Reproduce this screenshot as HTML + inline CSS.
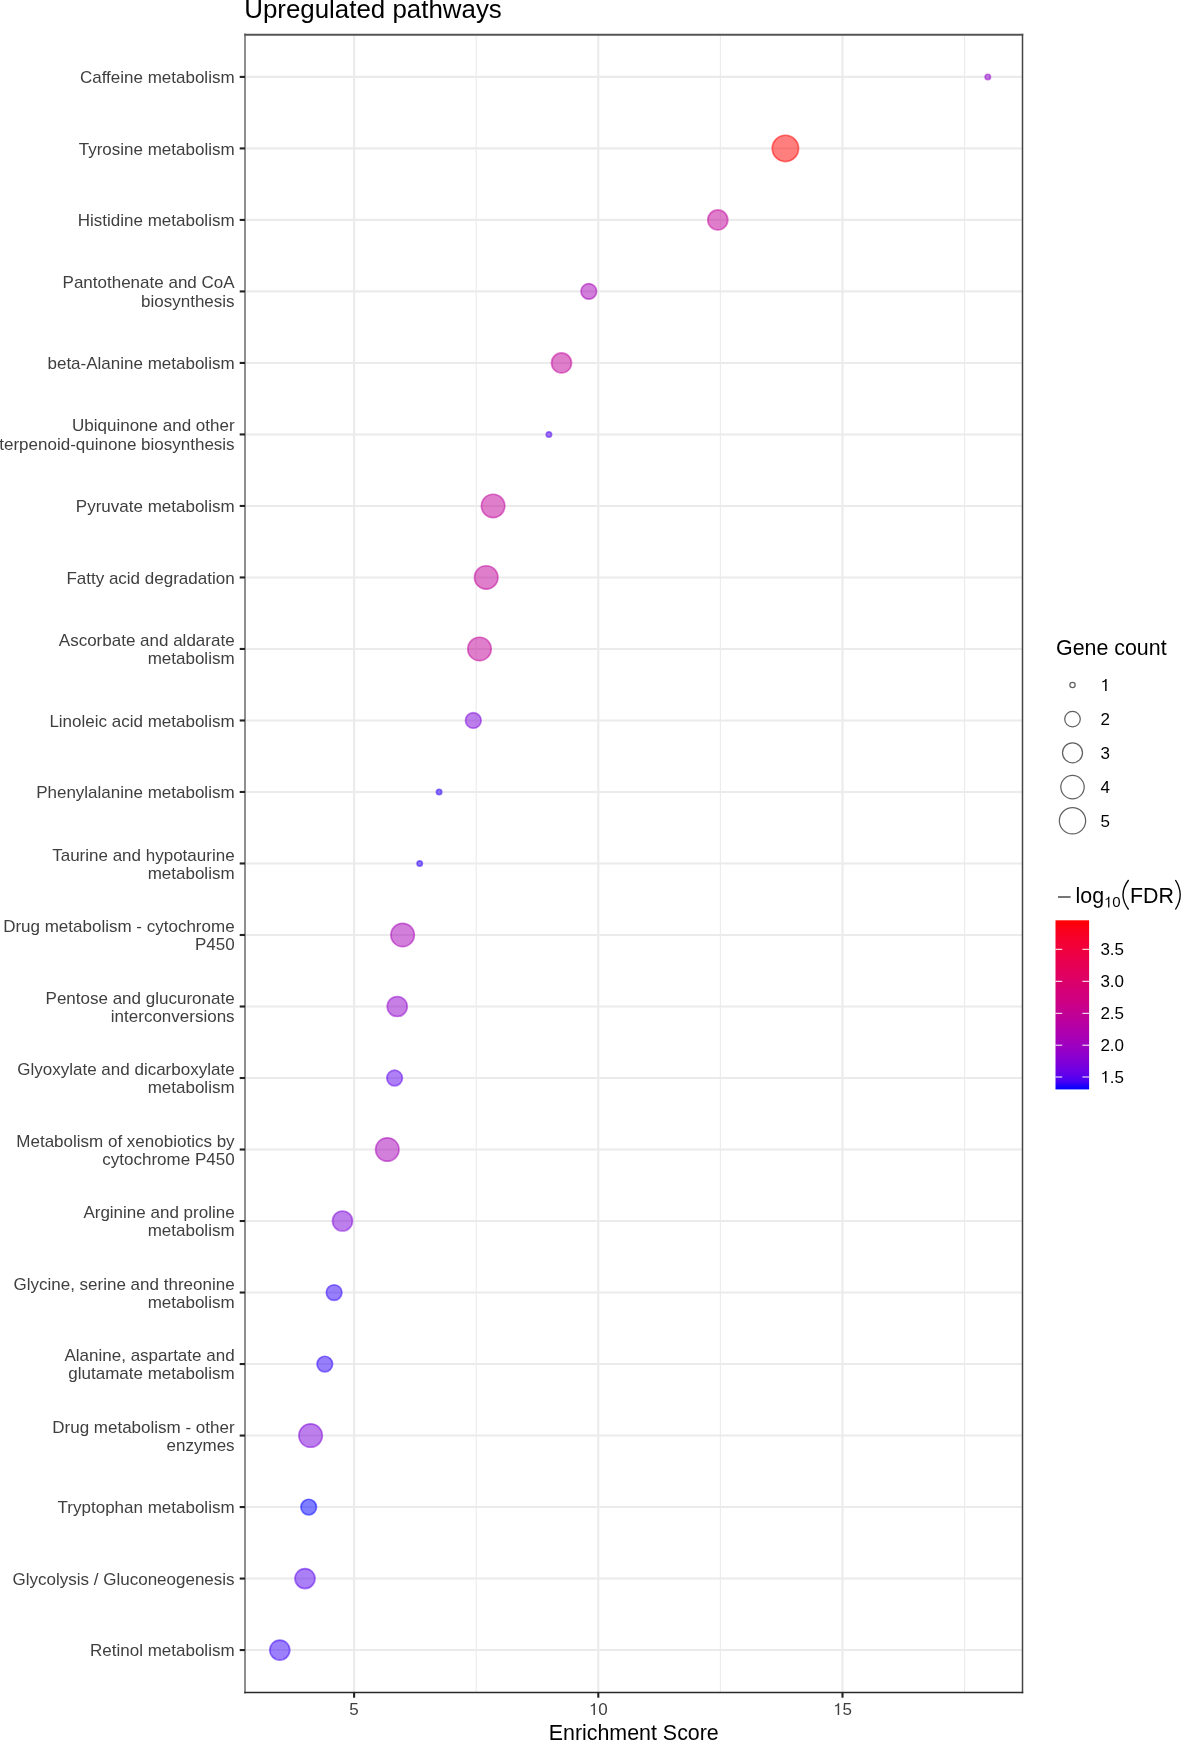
<!DOCTYPE html><html><head><meta charset="utf-8"><style>html,body{margin:0;padding:0;background:#fff;width:1181px;height:1741px;overflow:hidden}svg{display:block;will-change:transform}text{font-family:"Liberation Sans", sans-serif}</style></head><body>
<svg width="1181" height="1741" viewBox="0 0 1181 1741">
<rect x="0" y="0" width="1181" height="1741" fill="#FFFFFF"/>
<line x1="476.20" y1="34.5" x2="476.20" y2="1692.4" stroke="#EBEBEB" stroke-width="1.1"/>
<line x1="720.40" y1="34.5" x2="720.40" y2="1692.4" stroke="#EBEBEB" stroke-width="1.1"/>
<line x1="964.60" y1="34.5" x2="964.60" y2="1692.4" stroke="#EBEBEB" stroke-width="1.1"/>
<line x1="245.0" y1="76.90" x2="1022.5" y2="76.90" stroke="#EBEBEB" stroke-width="2.1"/>
<line x1="245.0" y1="148.41" x2="1022.5" y2="148.41" stroke="#EBEBEB" stroke-width="2.1"/>
<line x1="245.0" y1="219.92" x2="1022.5" y2="219.92" stroke="#EBEBEB" stroke-width="2.1"/>
<line x1="245.0" y1="291.42" x2="1022.5" y2="291.42" stroke="#EBEBEB" stroke-width="2.1"/>
<line x1="245.0" y1="362.93" x2="1022.5" y2="362.93" stroke="#EBEBEB" stroke-width="2.1"/>
<line x1="245.0" y1="434.44" x2="1022.5" y2="434.44" stroke="#EBEBEB" stroke-width="2.1"/>
<line x1="245.0" y1="505.95" x2="1022.5" y2="505.95" stroke="#EBEBEB" stroke-width="2.1"/>
<line x1="245.0" y1="577.45" x2="1022.5" y2="577.45" stroke="#EBEBEB" stroke-width="2.1"/>
<line x1="245.0" y1="648.96" x2="1022.5" y2="648.96" stroke="#EBEBEB" stroke-width="2.1"/>
<line x1="245.0" y1="720.47" x2="1022.5" y2="720.47" stroke="#EBEBEB" stroke-width="2.1"/>
<line x1="245.0" y1="791.98" x2="1022.5" y2="791.98" stroke="#EBEBEB" stroke-width="2.1"/>
<line x1="245.0" y1="863.48" x2="1022.5" y2="863.48" stroke="#EBEBEB" stroke-width="2.1"/>
<line x1="245.0" y1="934.99" x2="1022.5" y2="934.99" stroke="#EBEBEB" stroke-width="2.1"/>
<line x1="245.0" y1="1006.50" x2="1022.5" y2="1006.50" stroke="#EBEBEB" stroke-width="2.1"/>
<line x1="245.0" y1="1078.01" x2="1022.5" y2="1078.01" stroke="#EBEBEB" stroke-width="2.1"/>
<line x1="245.0" y1="1149.52" x2="1022.5" y2="1149.52" stroke="#EBEBEB" stroke-width="2.1"/>
<line x1="245.0" y1="1221.02" x2="1022.5" y2="1221.02" stroke="#EBEBEB" stroke-width="2.1"/>
<line x1="245.0" y1="1292.53" x2="1022.5" y2="1292.53" stroke="#EBEBEB" stroke-width="2.1"/>
<line x1="245.0" y1="1364.04" x2="1022.5" y2="1364.04" stroke="#EBEBEB" stroke-width="2.1"/>
<line x1="245.0" y1="1435.55" x2="1022.5" y2="1435.55" stroke="#EBEBEB" stroke-width="2.1"/>
<line x1="245.0" y1="1507.05" x2="1022.5" y2="1507.05" stroke="#EBEBEB" stroke-width="2.1"/>
<line x1="245.0" y1="1578.56" x2="1022.5" y2="1578.56" stroke="#EBEBEB" stroke-width="2.1"/>
<line x1="245.0" y1="1650.07" x2="1022.5" y2="1650.07" stroke="#EBEBEB" stroke-width="2.1"/>
<line x1="354.10" y1="34.5" x2="354.10" y2="1692.4" stroke="#EBEBEB" stroke-width="2.1"/>
<line x1="598.30" y1="34.5" x2="598.30" y2="1692.4" stroke="#EBEBEB" stroke-width="2.1"/>
<line x1="842.50" y1="34.5" x2="842.50" y2="1692.4" stroke="#EBEBEB" stroke-width="2.1"/>
<circle cx="987.80" cy="76.90" r="2.65" fill="#9000CC" fill-opacity="0.5" stroke="#9000CC" stroke-opacity="0.5" stroke-width="1.7"/>
<circle cx="785.40" cy="148.41" r="13.15" fill="#FF0000" fill-opacity="0.5" stroke="#FF0000" stroke-opacity="0.5" stroke-width="1.7"/>
<circle cx="717.80" cy="219.92" r="10.00" fill="#BF0099" fill-opacity="0.5" stroke="#BF0099" stroke-opacity="0.5" stroke-width="1.7"/>
<circle cx="588.80" cy="291.42" r="7.80" fill="#A600B7" fill-opacity="0.5" stroke="#A600B7" stroke-opacity="0.5" stroke-width="1.7"/>
<circle cx="561.50" cy="362.93" r="10.00" fill="#BF0099" fill-opacity="0.5" stroke="#BF0099" stroke-opacity="0.5" stroke-width="1.7"/>
<circle cx="548.90" cy="434.44" r="2.65" fill="#5200F0" fill-opacity="0.5" stroke="#5200F0" stroke-opacity="0.5" stroke-width="1.7"/>
<circle cx="493.10" cy="505.95" r="11.70" fill="#BF0099" fill-opacity="0.5" stroke="#BF0099" stroke-opacity="0.5" stroke-width="1.7"/>
<circle cx="486.20" cy="577.45" r="11.70" fill="#BF0099" fill-opacity="0.5" stroke="#BF0099" stroke-opacity="0.5" stroke-width="1.7"/>
<circle cx="479.50" cy="648.96" r="11.70" fill="#BF0099" fill-opacity="0.5" stroke="#BF0099" stroke-opacity="0.5" stroke-width="1.7"/>
<circle cx="473.30" cy="720.47" r="7.80" fill="#7C00DA" fill-opacity="0.5" stroke="#7C00DA" stroke-opacity="0.5" stroke-width="1.7"/>
<circle cx="439.10" cy="791.98" r="2.65" fill="#2F00FA" fill-opacity="0.5" stroke="#2F00FA" stroke-opacity="0.5" stroke-width="1.7"/>
<circle cx="419.70" cy="863.48" r="2.65" fill="#2F00FA" fill-opacity="0.5" stroke="#2F00FA" stroke-opacity="0.5" stroke-width="1.7"/>
<circle cx="402.60" cy="934.99" r="11.70" fill="#A600B7" fill-opacity="0.5" stroke="#A600B7" stroke-opacity="0.5" stroke-width="1.7"/>
<circle cx="397.20" cy="1006.50" r="10.00" fill="#9000CC" fill-opacity="0.5" stroke="#9000CC" stroke-opacity="0.5" stroke-width="1.7"/>
<circle cx="394.60" cy="1078.01" r="7.80" fill="#5E00EB" fill-opacity="0.5" stroke="#5E00EB" stroke-opacity="0.5" stroke-width="1.7"/>
<circle cx="387.30" cy="1149.52" r="11.70" fill="#A600B7" fill-opacity="0.5" stroke="#A600B7" stroke-opacity="0.5" stroke-width="1.7"/>
<circle cx="342.50" cy="1221.02" r="10.00" fill="#7C00DA" fill-opacity="0.5" stroke="#7C00DA" stroke-opacity="0.5" stroke-width="1.7"/>
<circle cx="334.10" cy="1292.53" r="7.80" fill="#2F00FA" fill-opacity="0.5" stroke="#2F00FA" stroke-opacity="0.5" stroke-width="1.7"/>
<circle cx="324.80" cy="1364.04" r="7.80" fill="#2F00FA" fill-opacity="0.5" stroke="#2F00FA" stroke-opacity="0.5" stroke-width="1.7"/>
<circle cx="310.60" cy="1435.55" r="11.70" fill="#7C00DA" fill-opacity="0.5" stroke="#7C00DA" stroke-opacity="0.5" stroke-width="1.7"/>
<circle cx="308.70" cy="1507.05" r="7.80" fill="#0000FF" fill-opacity="0.5" stroke="#0000FF" stroke-opacity="0.5" stroke-width="1.7"/>
<circle cx="305.00" cy="1578.56" r="10.00" fill="#5800EE" fill-opacity="0.5" stroke="#5800EE" stroke-opacity="0.5" stroke-width="1.7"/>
<circle cx="279.80" cy="1650.07" r="10.00" fill="#3A00F8" fill-opacity="0.5" stroke="#3A00F8" stroke-opacity="0.5" stroke-width="1.7"/>
<line x1="245.0" y1="34.5" x2="245.0" y2="1692.4" stroke="#8F8F8F" stroke-width="2" stroke-linecap="square"/>
<line x1="1022.5" y1="34.5" x2="1022.5" y2="1692.4" stroke="#444444" stroke-width="1.5" stroke-linecap="square"/>
<line x1="244.3" y1="34.75" x2="1023.25" y2="34.75" stroke="#555555" stroke-width="1.8"/>
<line x1="244.3" y1="1692.4" x2="1023.25" y2="1692.4" stroke="#2A2A2A" stroke-width="1.5"/>
<line x1="239.70" y1="76.90" x2="245.0" y2="76.90" stroke="#222222" stroke-width="2.1"/>
<text x="234.6" y="83.15" font-size="17.0" fill="#3F3F3F" text-anchor="end">Caffeine metabolism</text>
<line x1="239.70" y1="148.41" x2="245.0" y2="148.41" stroke="#222222" stroke-width="2.1"/>
<text x="234.6" y="154.66" font-size="17.0" fill="#3F3F3F" text-anchor="end">Tyrosine metabolism</text>
<line x1="239.70" y1="219.92" x2="245.0" y2="219.92" stroke="#222222" stroke-width="2.1"/>
<text x="234.6" y="226.16" font-size="17.0" fill="#3F3F3F" text-anchor="end">Histidine metabolism</text>
<line x1="239.70" y1="291.42" x2="245.0" y2="291.42" stroke="#222222" stroke-width="2.1"/>
<text x="234.6" y="288.47" font-size="17.0" fill="#3F3F3F" text-anchor="end">Pantothenate and CoA</text>
<text x="234.6" y="306.87" font-size="17.0" fill="#3F3F3F" text-anchor="end">biosynthesis</text>
<line x1="239.70" y1="362.93" x2="245.0" y2="362.93" stroke="#222222" stroke-width="2.1"/>
<text x="234.6" y="369.18" font-size="17.0" fill="#3F3F3F" text-anchor="end">beta-Alanine metabolism</text>
<line x1="239.70" y1="434.44" x2="245.0" y2="434.44" stroke="#222222" stroke-width="2.1"/>
<text x="234.6" y="431.49" font-size="17.0" fill="#3F3F3F" text-anchor="end">Ubiquinone and other</text>
<text x="234.6" y="449.89" font-size="17.0" fill="#3F3F3F" text-anchor="end">terpenoid-quinone biosynthesis</text>
<line x1="239.70" y1="505.95" x2="245.0" y2="505.95" stroke="#222222" stroke-width="2.1"/>
<text x="234.6" y="512.19" font-size="17.0" fill="#3F3F3F" text-anchor="end">Pyruvate metabolism</text>
<line x1="239.70" y1="577.45" x2="245.0" y2="577.45" stroke="#222222" stroke-width="2.1"/>
<text x="234.6" y="583.70" font-size="17.0" fill="#3F3F3F" text-anchor="end">Fatty acid degradation</text>
<line x1="239.70" y1="648.96" x2="245.0" y2="648.96" stroke="#222222" stroke-width="2.1"/>
<text x="234.6" y="646.01" font-size="17.0" fill="#3F3F3F" text-anchor="end">Ascorbate and aldarate</text>
<text x="234.6" y="664.41" font-size="17.0" fill="#3F3F3F" text-anchor="end">metabolism</text>
<line x1="239.70" y1="720.47" x2="245.0" y2="720.47" stroke="#222222" stroke-width="2.1"/>
<text x="234.6" y="726.72" font-size="17.0" fill="#3F3F3F" text-anchor="end">Linoleic acid metabolism</text>
<line x1="239.70" y1="791.98" x2="245.0" y2="791.98" stroke="#222222" stroke-width="2.1"/>
<text x="234.6" y="798.23" font-size="17.0" fill="#3F3F3F" text-anchor="end">Phenylalanine metabolism</text>
<line x1="239.70" y1="863.48" x2="245.0" y2="863.48" stroke="#222222" stroke-width="2.1"/>
<text x="234.6" y="860.53" font-size="17.0" fill="#3F3F3F" text-anchor="end">Taurine and hypotaurine</text>
<text x="234.6" y="878.93" font-size="17.0" fill="#3F3F3F" text-anchor="end">metabolism</text>
<line x1="239.70" y1="934.99" x2="245.0" y2="934.99" stroke="#222222" stroke-width="2.1"/>
<text x="234.6" y="932.04" font-size="17.0" fill="#3F3F3F" text-anchor="end">Drug metabolism - cytochrome</text>
<text x="234.6" y="950.44" font-size="17.0" fill="#3F3F3F" text-anchor="end">P450</text>
<line x1="239.70" y1="1006.50" x2="245.0" y2="1006.50" stroke="#222222" stroke-width="2.1"/>
<text x="234.6" y="1003.55" font-size="17.0" fill="#3F3F3F" text-anchor="end">Pentose and glucuronate</text>
<text x="234.6" y="1021.95" font-size="17.0" fill="#3F3F3F" text-anchor="end">interconversions</text>
<line x1="239.70" y1="1078.01" x2="245.0" y2="1078.01" stroke="#222222" stroke-width="2.1"/>
<text x="234.6" y="1075.06" font-size="17.0" fill="#3F3F3F" text-anchor="end">Glyoxylate and dicarboxylate</text>
<text x="234.6" y="1093.46" font-size="17.0" fill="#3F3F3F" text-anchor="end">metabolism</text>
<line x1="239.70" y1="1149.52" x2="245.0" y2="1149.52" stroke="#222222" stroke-width="2.1"/>
<text x="234.6" y="1146.56" font-size="17.0" fill="#3F3F3F" text-anchor="end">Metabolism of xenobiotics by</text>
<text x="234.6" y="1164.96" font-size="17.0" fill="#3F3F3F" text-anchor="end">cytochrome P450</text>
<line x1="239.70" y1="1221.02" x2="245.0" y2="1221.02" stroke="#222222" stroke-width="2.1"/>
<text x="234.6" y="1218.07" font-size="17.0" fill="#3F3F3F" text-anchor="end">Arginine and proline</text>
<text x="234.6" y="1236.47" font-size="17.0" fill="#3F3F3F" text-anchor="end">metabolism</text>
<line x1="239.70" y1="1292.53" x2="245.0" y2="1292.53" stroke="#222222" stroke-width="2.1"/>
<text x="234.6" y="1289.58" font-size="17.0" fill="#3F3F3F" text-anchor="end">Glycine, serine and threonine</text>
<text x="234.6" y="1307.98" font-size="17.0" fill="#3F3F3F" text-anchor="end">metabolism</text>
<line x1="239.70" y1="1364.04" x2="245.0" y2="1364.04" stroke="#222222" stroke-width="2.1"/>
<text x="234.6" y="1361.09" font-size="17.0" fill="#3F3F3F" text-anchor="end">Alanine, aspartate and</text>
<text x="234.6" y="1379.49" font-size="17.0" fill="#3F3F3F" text-anchor="end">glutamate metabolism</text>
<line x1="239.70" y1="1435.55" x2="245.0" y2="1435.55" stroke="#222222" stroke-width="2.1"/>
<text x="234.6" y="1432.59" font-size="17.0" fill="#3F3F3F" text-anchor="end">Drug metabolism - other</text>
<text x="234.6" y="1450.99" font-size="17.0" fill="#3F3F3F" text-anchor="end">enzymes</text>
<line x1="239.70" y1="1507.05" x2="245.0" y2="1507.05" stroke="#222222" stroke-width="2.1"/>
<text x="234.6" y="1513.30" font-size="17.0" fill="#3F3F3F" text-anchor="end">Tryptophan metabolism</text>
<line x1="239.70" y1="1578.56" x2="245.0" y2="1578.56" stroke="#222222" stroke-width="2.1"/>
<text x="234.6" y="1584.81" font-size="17.0" fill="#3F3F3F" text-anchor="end">Glycolysis / Gluconeogenesis</text>
<line x1="239.70" y1="1650.07" x2="245.0" y2="1650.07" stroke="#222222" stroke-width="2.1"/>
<text x="234.6" y="1656.32" font-size="17.0" fill="#3F3F3F" text-anchor="end">Retinol metabolism</text>
<line x1="354.10" y1="1692.4" x2="354.10" y2="1697.70" stroke="#222222" stroke-width="2.1"/>
<text x="354.10" y="1715.1" font-size="17.0" fill="#3F3F3F" text-anchor="middle">5</text>
<line x1="598.30" y1="1692.4" x2="598.30" y2="1697.70" stroke="#222222" stroke-width="2.1"/>
<text x="598.30" y="1715.1" font-size="17.0" fill="#3F3F3F">0</text>
<path d="M593.49,1715.10 L594.95,1715.10 L594.95,1703.15 L593.78,1703.15 L593.30,1704.05 L592.33,1704.93 L590.70,1705.49 L590.70,1706.60 L592.25,1706.23 L593.49,1705.55 Z" fill="#3F3F3F"/>
<line x1="842.50" y1="1692.4" x2="842.50" y2="1697.70" stroke="#222222" stroke-width="2.1"/>
<text x="842.50" y="1715.1" font-size="17.0" fill="#3F3F3F">5</text>
<path d="M837.69,1715.10 L839.15,1715.10 L839.15,1703.15 L837.98,1703.15 L837.50,1704.05 L836.53,1704.93 L834.90,1705.49 L834.90,1706.60 L836.45,1706.23 L837.69,1705.55 Z" fill="#3F3F3F"/>
<text x="633.75" y="1739.9" font-size="21.4" fill="#000" text-anchor="middle">Enrichment Score</text>
<text x="244.2" y="18.3" font-size="25.9" fill="#000">Upregulated pathways</text>
<text x="1056" y="655.4" font-size="21.4" fill="#000">Gene count</text>
<circle cx="1072.5" cy="685.1" r="2.65" fill="none" stroke="#000" stroke-opacity="0.62" stroke-width="1.25"/>
<path d="M1105.14,690.95 L1106.60,690.95 L1106.60,679.00 L1105.43,679.00 L1104.95,679.90 L1103.98,680.78 L1102.35,681.34 L1102.35,682.45 L1103.90,682.07 L1105.14,681.39 Z" fill="#000"/>
<circle cx="1072.5" cy="719.1" r="7.80" fill="none" stroke="#000" stroke-opacity="0.62" stroke-width="1.25"/>
<text x="1100.5" y="724.95" font-size="17.0" fill="#000">2</text>
<circle cx="1072.5" cy="752.8" r="10.00" fill="none" stroke="#000" stroke-opacity="0.62" stroke-width="1.25"/>
<text x="1100.5" y="758.65" font-size="17.0" fill="#000">3</text>
<circle cx="1072.5" cy="787.1" r="11.70" fill="none" stroke="#000" stroke-opacity="0.62" stroke-width="1.25"/>
<text x="1100.5" y="792.95" font-size="17.0" fill="#000">4</text>
<circle cx="1072.5" cy="820.8" r="13.15" fill="none" stroke="#000" stroke-opacity="0.62" stroke-width="1.25"/>
<text x="1100.5" y="826.65" font-size="17.0" fill="#000">5</text>
<defs><linearGradient id="cb" x1="0" y1="0" x2="0" y2="1"><stop offset="0.000" stop-color="#FF0000"/><stop offset="0.050" stop-color="#FB001A"/><stop offset="0.100" stop-color="#F6002A"/><stop offset="0.150" stop-color="#F20037"/><stop offset="0.200" stop-color="#ED0044"/><stop offset="0.250" stop-color="#E80050"/><stop offset="0.300" stop-color="#E3005B"/><stop offset="0.350" stop-color="#DD0066"/><stop offset="0.400" stop-color="#D70072"/><stop offset="0.450" stop-color="#D1007D"/><stop offset="0.500" stop-color="#CA0088"/><stop offset="0.550" stop-color="#C20094"/><stop offset="0.600" stop-color="#BA009F"/><stop offset="0.650" stop-color="#B000AB"/><stop offset="0.700" stop-color="#A600B7"/><stop offset="0.750" stop-color="#9A00C3"/><stop offset="0.800" stop-color="#8D00CE"/><stop offset="0.850" stop-color="#7C00DA"/><stop offset="0.900" stop-color="#6800E7"/><stop offset="0.950" stop-color="#4B00F3"/><stop offset="1.000" stop-color="#0000FF"/></linearGradient></defs>
<rect x="1055.5" y="920.3" width="33.60" height="169.10" fill="url(#cb)"/>
<line x1="1055.5" y1="949.3" x2="1062.22" y2="949.3" stroke="#FFF" stroke-width="1"/>
<line x1="1082.38" y1="949.3" x2="1089.1" y2="949.3" stroke="#FFF" stroke-width="1"/>
<text x="1100.4" y="955.15" font-size="17.0" fill="#000">3.5</text>
<line x1="1055.5" y1="981.3" x2="1062.22" y2="981.3" stroke="#FFF" stroke-width="1"/>
<line x1="1082.38" y1="981.3" x2="1089.1" y2="981.3" stroke="#FFF" stroke-width="1"/>
<text x="1100.4" y="987.15" font-size="17.0" fill="#000">3.0</text>
<line x1="1055.5" y1="1013.3" x2="1062.22" y2="1013.3" stroke="#FFF" stroke-width="1"/>
<line x1="1082.38" y1="1013.3" x2="1089.1" y2="1013.3" stroke="#FFF" stroke-width="1"/>
<text x="1100.4" y="1019.15" font-size="17.0" fill="#000">2.5</text>
<line x1="1055.5" y1="1045.2" x2="1062.22" y2="1045.2" stroke="#FFF" stroke-width="1"/>
<line x1="1082.38" y1="1045.2" x2="1089.1" y2="1045.2" stroke="#FFF" stroke-width="1"/>
<text x="1100.4" y="1051.05" font-size="17.0" fill="#000">2.0</text>
<line x1="1055.5" y1="1077.0" x2="1062.22" y2="1077.0" stroke="#FFF" stroke-width="1"/>
<line x1="1082.38" y1="1077.0" x2="1089.1" y2="1077.0" stroke="#FFF" stroke-width="1"/>
<path d="M1105.04,1082.85 L1106.50,1082.85 L1106.50,1070.90 L1105.33,1070.90 L1104.85,1071.80 L1103.88,1072.68 L1102.25,1073.24 L1102.25,1074.35 L1103.80,1073.97 L1105.04,1073.29 Z" fill="#000"/>
<text x="1109.85" y="1082.85" font-size="17.0" fill="#000">.5</text>
<line x1="1058" y1="897" x2="1070.6" y2="897" stroke="#111" stroke-width="1.15"/>
<text x="1075.6" y="903" font-size="21.4" fill="#000">log</text>
<path d="M1108.10,907.40 L1109.38,907.40 L1109.38,896.86 L1108.35,896.86 L1107.93,897.65 L1107.08,898.43 L1105.63,898.92 L1105.63,899.90 L1107.00,899.57 L1108.10,898.97 Z" fill="#000"/>
<text x="1112.34" y="907.4" font-size="15" fill="#000">0</text>
<path d="M1128.6,880 Q1117.4,894.75 1128.6,909.5" fill="none" stroke="#000" stroke-width="1.35"/>
<text x="1130" y="903" font-size="21.4" fill="#000">FDR</text>
<path d="M1175.4,880 Q1185.0,894.75 1175.4,909.5" fill="none" stroke="#000" stroke-width="1.35"/>
</svg></body></html>
